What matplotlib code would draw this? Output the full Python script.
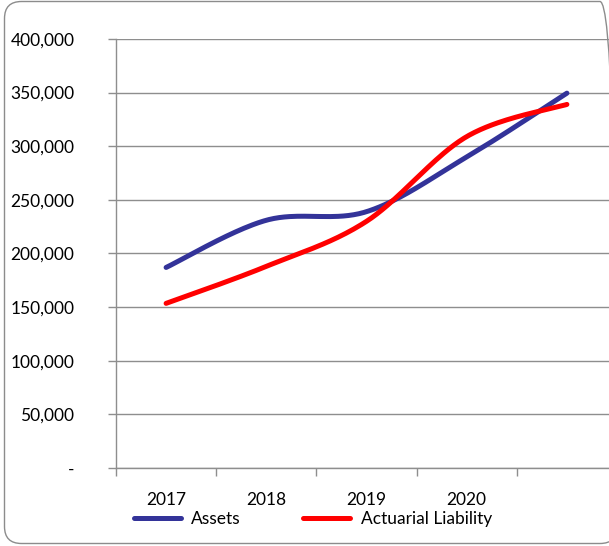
import numpy as np
import matplotlib
matplotlib.use("Agg")
import matplotlib.pyplot as plt
from matplotlib.patches import FancyBboxPatch

categories = ["2017", "2018", "2019", "2020", ""]
assets = [187000, 231000, 239000, 290000, 349500]
liability = [153500, 188000, 230000, 309000, 339000]
yticks = [0, 50000, 100000, 150000, 200000, 250000, 300000, 350000, 400000]
ytick_labels = ["-", "50,000", "100,000", "150,000", "200,000", "250,000",
                "300,000", "350,000", "400,000"]

plt.rcParams['font.family'] = ['Lato', 'DejaVu Sans']


def smooth(xs, ys, n=40):
    xs = np.asarray(xs, float)
    ys = np.asarray(ys, float)
    P = np.column_stack([xs, ys])
    Pe = np.vstack([P[0], P, P[-1]])
    out = []
    t = np.linspace(0, 1, n)[:, None]
    for i in range(len(P) - 1):
        p0 = Pe[i + 1]
        p3 = Pe[i + 2]
        c1 = p0 + (Pe[i + 2] - Pe[i]) / 6.0
        c2 = p3 - (Pe[i + 3] - Pe[i + 1]) / 6.0
        seg = ((1 - t) ** 3) * p0 + 3 * ((1 - t) ** 2) * t * c1 + 3 * (1 - t) * t ** 2 * c2 + t ** 3 * p3
        out.append(seg if i == 0 else seg[1:])
    s = np.vstack(out)
    return s[:, 0], s[:, 1]


W, H = 609, 546
fig = plt.figure(figsize=(W / 100, H / 100), dpi=100)

# rounded border in inches (pixels / 100)
bx0, by0, bx1, by1 = 4.5, 1.5, 617, 543.5   # pixels, y measured from top
border = FancyBboxPatch((bx0 / 100, (H - by1) / 100), (bx1 - bx0) / 100, (by1 - by0) / 100,
                        boxstyle="round,pad=0,rounding_size=0.17",
                        transform=fig.dpi_scale_trans, fill=False,
                        edgecolor="#8c8c8c", linewidth=1.0)
fig.patches.append(border)

left, right, top, bottom = 116, 617, 39, 468
ax = fig.add_axes([left / W, 1 - bottom / H, (right - left) / W, (bottom - top) / H])

x = np.arange(len(categories))
gc = "#8e8e8e"
xa, ya = smooth(x, assets)
xl, yl = smooth(x, liability)
ax.plot(xa, ya, color="#333399", lw=3.6, solid_capstyle="round", zorder=3,
        label="Assets")
ax.plot(xl, yl, color="#ff0000", lw=3.6, solid_capstyle="round", zorder=3,
        label="Actuarial Liability")

ax.set_xlim(-0.5, len(categories) - 0.5)
ax.set_ylim(0, 400000)
ax.set_yticks(yticks)
ax.set_yticklabels(ytick_labels)
ax.set_xticks(x)
ax.set_xticklabels(categories)
ax.set_xticks(np.arange(-0.5, len(categories)), minor=True)
ax.tick_params(axis="x", which="major", length=0, pad=17, labelsize=12.5)
ax.tick_params(axis="x", which="minor", length=6, color=gc, width=1, direction="out")
ax.tick_params(axis="y", length=6, color=gc, width=1, direction="out", pad=24,
               labelsize=12.5)
ax.grid(axis="y", color=gc, lw=1)
ax.set_axisbelow(True)
for s in ["top", "right"]:
    ax.spines[s].set_visible(False)
for s in ["left", "bottom"]:
    ax.spines[s].set_color(gc)
    ax.spines[s].set_linewidth(1)

fig.legend(loc="center", bbox_to_anchor=(313 / W, 1 - 519 / H), ncol=2,
           frameon=False, fontsize=12.5, handlelength=2.7, columnspacing=3.6,
           handletextpad=0.6, borderpad=0)

fig.savefig("out.png", dpi=100)
